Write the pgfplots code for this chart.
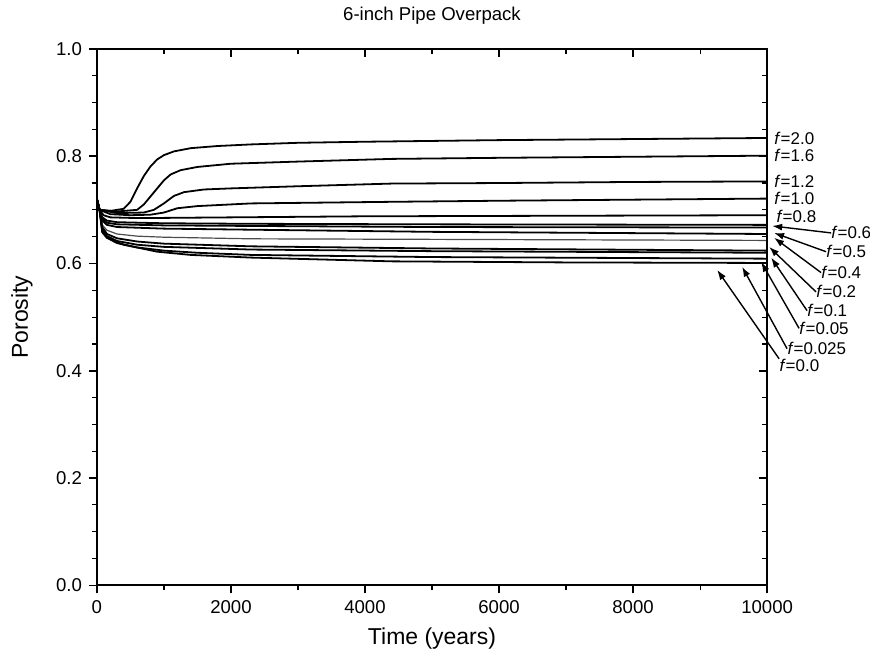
\documentclass[border=0pt]{standalone}
\usepackage{pgfplots}
\pgfplotsset{compat=1.18}
\usepackage{fontspec}
\setmainfont{Liberation Sans}
\usetikzlibrary{arrows.meta}

\pgfplotsset{
  porosity/.style={
    width=335.5pt, height=268.5pt, scale only axis,
    xmin=0, xmax=10000, ymin=0, ymax=1,
    scaled x ticks=false, scaled y ticks=false,
    xtick={0,2000,...,10000}, minor x tick num=1,
    ytick={0,0.2,...,1.0}, minor y tick num=3,
    axis line style={line width=0.9pt},
    major tick length=4pt, minor tick length=2.5pt,
    every tick/.style={black, line width=0.8pt},
    every minor tick/.style={black, line width=0.6pt},
  },
}
\tikzset{
  crv/.style={black, line width=0.9pt},
  lab/.style={anchor=west, inner sep=0pt, font=\fontsize{8.5}{10}\selectfont},
  arr/.style={-{Latex[length=5pt,width=3.5pt]}, line width=0.7pt},
}

\begin{document}
\begin{tikzpicture}
\begin{axis}[porosity, name=ax,
  clip=false,
  tick align=outside, xtick pos=bottom, ytick pos=left,
  /pgf/number format/assume math mode=true,
  tick label style={font=\fontsize{9.3}{11}\selectfont},
  x tick label style={/pgf/number format/set thousands separator={}},
  y tick label style={/pgf/number format/.cd, fixed, fixed zerofill, precision=1},
  xlabel={Time (years)},
  xlabel style={at={(axis description cs:0.5,-0.1)}, anchor=center, font=\fontsize{11.5}{13}\selectfont},
  ylabel={Porosity},
  ylabel style={at={(axis description cs:-0.1118,0.5)}, anchor=center, font=\fontsize{11.5}{13}\selectfont},
]
% f=2.0
\addplot[crv] coordinates {(0,0.72)(40,0.70)(200,0.698)(400,0.702)(500,0.715)(600,0.740)(700,0.763)(800,0.781)(900,0.794)(1000,0.802)(1150,0.809)(1400,0.815)(1800,0.819)(2300,0.822)(3000,0.825)(4000,0.827)(6000,0.830)(8000,0.832)(10000,0.834)};
% f=1.6
\addplot[crv] coordinates {(0,0.72)(40,0.70)(300,0.697)(600,0.700)(700,0.710)(800,0.725)(900,0.740)(1000,0.755)(1100,0.766)(1250,0.774)(1500,0.780)(2000,0.786)(3000,0.790)(4400,0.795)(6000,0.797)(8000,0.799)(10000,0.801)};
% f=1.2
\addplot[crv] coordinates {(0,0.72)(40,0.70)(300,0.694)(700,0.695)(850,0.700)(1000,0.712)(1150,0.726)(1300,0.733)(1600,0.738)(2000,0.740)(3000,0.744)(4400,0.749)(6000,0.750)(8000,0.752)(10000,0.753)};
% f=1.0
\addplot[crv] coordinates {(0,0.72)(40,0.70)(200,0.692)(500,0.690)(800,0.691)(1000,0.695)(1200,0.703)(1500,0.707)(2300,0.712)(4400,0.715)(6000,0.717)(8000,0.719)(10000,0.721)};
% f=0.8
\addplot[crv] coordinates {(0,0.72)(40,0.70)(100,0.690)(200,0.686)(500,0.685)(1000,0.685)(2000,0.686)(4000,0.688)(7000,0.689)(10000,0.690)};
% f=0.6
\addplot[crv] coordinates {(0,0.72)(40,0.70)(80,0.686)(150,0.680)(300,0.677)(1000,0.675)(2300,0.674)(5000,0.673)(10000,0.672)};
% f=0.5
\addplot[crv] coordinates {(0,0.72)(40,0.70)(80,0.683)(150,0.676)(300,0.673)(1000,0.671)(2300,0.670)(5000,0.668)(10000,0.667)};
% f=0.4
\addplot[crv] coordinates {(0,0.72)(40,0.70)(80,0.680)(150,0.672)(300,0.668)(1000,0.665)(2300,0.663)(5000,0.659)(10000,0.655)};
% f=0.2
\addplot[crv, line width=0.6pt, black!70] coordinates {(0,0.72)(40,0.70)(80,0.672)(150,0.662)(300,0.655)(600,0.651)(1000,0.649)(2300,0.646)(5000,0.645)(10000,0.643)};
% f=0.1
\addplot[crv] coordinates {(0,0.72)(40,0.70)(80,0.668)(150,0.655)(300,0.647)(600,0.641)(1000,0.637)(2300,0.632)(5000,0.628)(10000,0.624)};
% f=0.05
\addplot[crv] coordinates {(0,0.72)(40,0.70)(80,0.664)(150,0.651)(300,0.642)(600,0.635)(1000,0.631)(2300,0.626)(5000,0.623)(10000,0.620)};
% f=0.025
\addplot[crv] coordinates {(0,0.72)(40,0.70)(80,0.660)(150,0.648)(300,0.638)(600,0.630)(1000,0.624)(1500,0.620)(2300,0.616)(5000,0.612)(10000,0.609)};
% f=0.0
\addplot[crv] coordinates {(0,0.72)(40,0.70)(80,0.658)(150,0.648)(400,0.635)(900,0.622)(1400,0.616)(2300,0.611)(4400,0.604)(7000,0.602)(10000,0.601)};

% title
\node[font=\fontsize{9.3}{11}\selectfont] at (axis description cs:0.5,1.0615) {6-inch Pipe Overpack};

% curve labels
\node[lab] at (axis cs:10104,0.834) {\textit{f}=2.0};
\node[lab] at (axis cs:10104,0.801) {\textit{f}=1.6};
\node[lab] at (axis cs:10104,0.753) {\textit{f}=1.2};
\node[lab] at (axis cs:10104,0.721) {\textit{f}=1.0};
\node[lab] at (axis cs:10134,0.687) {\textit{f}=0.8};
\node[lab] (n06) at (axis cs:10954,0.657) {\textit{f}=0.6};
\node[lab] (n05) at (axis cs:10879,0.622) {\textit{f}=0.5};
\node[lab] (n04) at (axis cs:10805,0.583) {\textit{f}=0.4};
\node[lab] (n02) at (axis cs:10730,0.547) {\textit{f}=0.2};
\node[lab] (n01) at (axis cs:10596,0.512) {\textit{f}=0.1};
\node[lab] (n005) at (axis cs:10477,0.479) {\textit{f}=0.05};
\node[lab] (n0025) at (axis cs:10298,0.441) {\textit{f}=0.025};
\node[lab] (n00) at (axis cs:10179,0.410) {\textit{f}=0.0};
\draw[arr] (n06.west) -- (axis cs:10075,0.670);
\draw[arr] (n05.west) -- (axis cs:10104,0.657);
\draw[arr] (n04.west) -- (axis cs:10104,0.648);
\draw[arr] (n02.west) -- (axis cs:10030,0.631);
\draw[arr] (n01.west) -- (axis cs:10060,0.611);
\draw[arr] (n005.west) -- (axis cs:9911,0.603);
\draw[arr] (n0025.west) -- (axis cs:9627,0.594);
\draw[arr] (n00.north west) -- (axis cs:9255,0.588);
\end{axis}
% inward ticks on top and right
\begin{axis}[porosity,
  tick align=inside, xtick pos=top, ytick pos=right,
  xticklabels={}, yticklabels={},
]
\end{axis}
\pgfresetboundingbox
\path[use as bounding box] ([shift={(-48.5pt,-36pt)}]ax.south west) rectangle ([shift={(51.5pt,24.5pt)}]ax.north east);
\end{tikzpicture}
\end{document}
